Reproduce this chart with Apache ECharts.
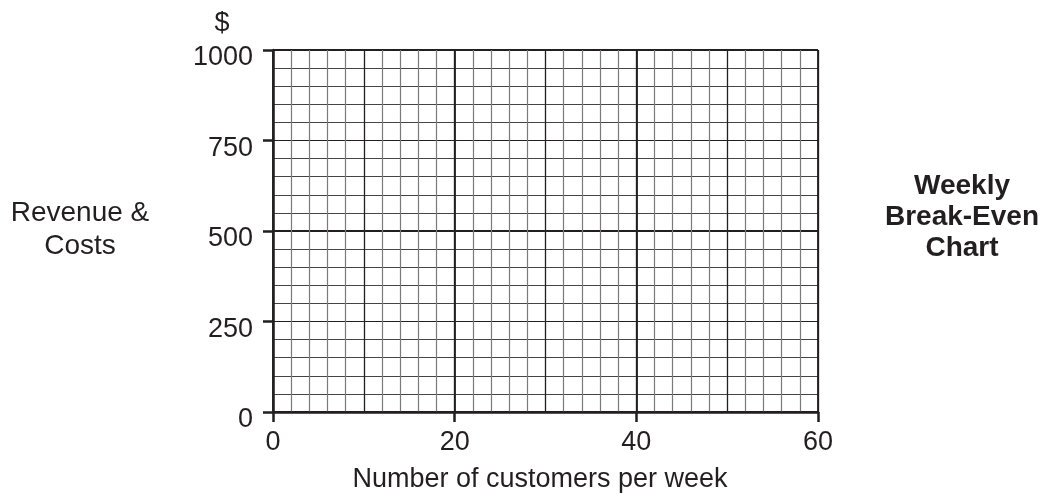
<!DOCTYPE html>
<html>
<head>
<meta charset="utf-8">
<script src="https://cdn.jsdelivr.net/npm/echarts@6/dist/echarts.min.js"></script>
<style>html,body{margin:0;padding:0;background:#fff;}#c{width:1046px;height:497px;}</style>
</head>
<body>
<div id="c"></div>
<script>
// Data (the chart is a blank break-even grid)
const xTickLabels = [0, 20, 40, 60];
const yTickLabels = [0, 250, 500, 750, 1000];
const seriesValues = []; // no plotted data in the reference

const FONT = "'Liberation Sans', Arial, Helvetica, sans-serif";
const INK = '#231f20';
const xMin = xTickLabels[0], xMax = xTickLabels[xTickLabels.length - 1];
const yMin = yTickLabels[0], yMax = yTickLabels[yTickLabels.length - 1];

function gridAxis(min, max, interval, color, width, pos) {
  return {
    type: 'value', min: min, max: max, interval: interval, position: pos,
    axisLine: {show: false}, axisTick: {show: false}, axisLabel: {show: false},
    splitLine: {show: true, lineStyle: {color: color, width: width}}
  };
}

const chart = echarts.init(document.getElementById('c'));
chart.setOption({
  animation: false,
  backgroundColor: '#fff',
  grid: {left: 273, top: 50, width: 545, height: 362, containLabel: false},
  xAxis: [
    gridAxis(xMin, xMax, 2, '#7a7a7a', 1.2, 'bottom'),
    gridAxis(xMin, xMax, 10, INK, 1.2, 'bottom'),
    {
      type: 'value', min: xMin, max: xMax, interval: 20, position: 'bottom',
      axisLine: {show: true, onZero: false, lineStyle: {color: INK, width: 2.5}},
      axisTick: {show: true, inside: false, length: 10, lineStyle: {color: INK, width: 2.5}},
      axisLabel: {show: true, color: INK, fontSize: 27, fontFamily: FONT, margin: 17,
        formatter: v => xTickLabels.includes(v) ? String(v) : ''},
      splitLine: {show: true, lineStyle: {color: INK, width: 1.8}}
    }
  ],
  yAxis: [
    gridAxis(yMin, yMax, 50, '#454545', 1.1, 'left'),
    gridAxis(yMin, yMax, 250, INK, 1.2, 'left'),
    gridAxis(yMin, yMax, 500, INK, 1.8, 'left'),
    {
      type: 'value', min: yMin, max: yMax, interval: 250, position: 'left',
      axisLine: {show: true, onZero: false, lineStyle: {color: INK, width: 2.5}},
      axisTick: {show: true, inside: false, length: 10, lineStyle: {color: INK, width: 2.5}},
      axisLabel: {show: true, color: INK, fontSize: 27, fontFamily: FONT, margin: 20,
        verticalAlign: 'top', lineHeight: 16,
        formatter: v => yTickLabels.includes(v) ? String(v) : ''},
      splitLine: {show: false}
    }
  ],
  series: [{
    type: 'line', xAxisIndex: 2, yAxisIndex: 3, data: seriesValues, silent: true
  }],
  graphic: [
    {type: 'text', x: 222, y: 24, style: {text: '$', fill: INK, font: '27px ' + FONT, textAlign: 'center', textVerticalAlign: 'middle'}},
    {type: 'text', x: 80, y: 230, style: {text: 'Revenue &\nCosts', fill: INK, font: '28px ' + FONT, lineHeight: 33, textAlign: 'center', textVerticalAlign: 'middle'}},
    {type: 'text', x: 962, y: 217, style: {text: 'Weekly\nBreak-Even\nChart', fill: INK, font: 'bold 28px ' + FONT, lineHeight: 31, textAlign: 'center', textVerticalAlign: 'middle'}},
    {type: 'text', x: 540, y: 480, style: {text: 'Number of customers per week', fill: INK, font: '27px ' + FONT, textAlign: 'center', textVerticalAlign: 'middle'}}
  ]
});
</script>
</body>
</html>
